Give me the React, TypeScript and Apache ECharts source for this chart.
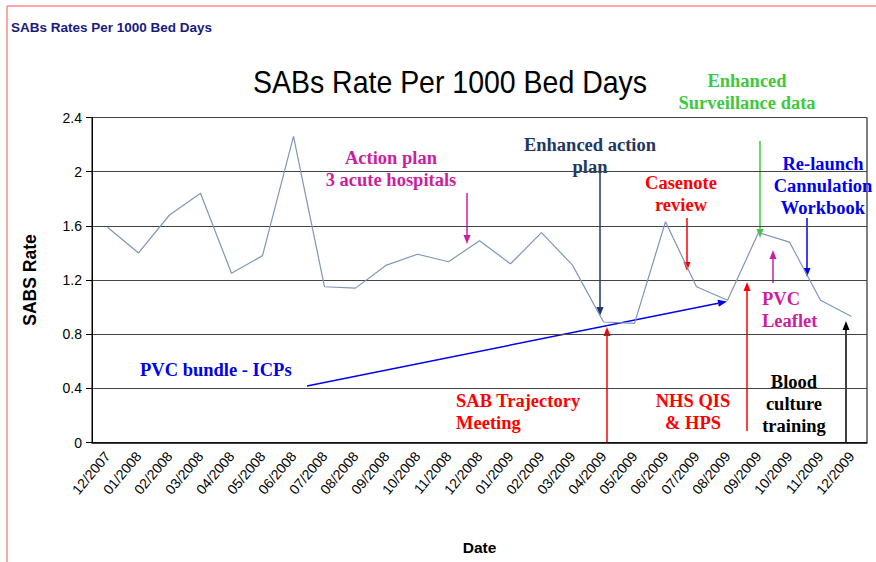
import React, { useEffect, useRef } from "react";
import * as echarts from "echarts";

const categories = [
  "12/2007", "01/2008", "02/2008", "03/2008", "04/2008", "05/2008", "06/2008",
  "07/2008", "08/2008", "09/2008", "10/2008", "11/2008", "12/2008", "01/2009",
  "02/2009", "03/2009", "04/2009", "05/2009", "06/2009", "07/2009", "08/2009",
  "09/2009", "10/2009", "11/2009", "12/2009",
];

const sabsRate = [
  1.59, 1.40, 1.68, 1.84, 1.25, 1.38, 2.26, 1.15, 1.14, 1.31, 1.39, 1.335, 1.49,
  1.32, 1.55, 1.31, 0.89, 0.88, 1.63, 1.15, 1.05, 1.55, 1.48, 1.05, 0.93,
];

const yTicks = { min: 0, max: 2.4, interval: 0.4 };

const SERIF = "'Liberation Serif', 'Times New Roman', serif";
const SANS = "'Liberation Sans', Arial, sans-serif";

function arrow(x1: number, y1: number, x2: number, y2: number, color: string, width = 1.5) {
  const ang = Math.atan2(y2 - y1, x2 - x1);
  const L = 9;
  const W = 3.5;
  const c = Math.cos(ang);
  const s = Math.sin(ang);
  const bx = x2 - L * c;
  const by = y2 - L * s;
  return {
    type: "group",
    silent: true,
    children: [
      {
        type: "line",
        shape: { x1, y1, x2: bx, y2: by },
        style: { stroke: color, lineWidth: width },
      },
      {
        type: "polygon",
        shape: {
          points: [
            [x2, y2],
            [bx - W * s, by + W * c],
            [bx + W * s, by - W * c],
          ],
        },
        style: { fill: color },
      },
    ],
  };
}

function label(text: string, x: number, y: number, color: string, align = "center") {
  return {
    type: "text",
    x,
    y,
    silent: true,
    style: {
      text,
      fontFamily: SERIF,
      fontWeight: "bold",
      fontSize: 18.5,
      lineHeight: 22,
      fill: color,
      align,
      verticalAlign: "middle",
    },
  };
}

export default function App() {
  const ref = useRef<HTMLDivElement>(null);

  useEffect(() => {
    document.body.style.margin = "0";
    if (!ref.current) return;
    const chart = echarts.init(ref.current, undefined, { renderer: "svg" });

    const RED = "#ff0000";
    const MAGENTA = "#cc1f9f";
    const NAVY = "#1f3864";
    const BLUE = "#0000ee";
    const GREEN = "#3ec93e";

    chart.setOption({
      animation: false,
      backgroundColor: "#ffffff",
      grid: {
        left: 92,
        right: 9,
        top: 117.5,
        bottom: 119.5,
        containLabel: false,
        outerBoundsMode: "none",
        show: true,
        borderColor: "#000",
        borderWidth: 1,
        backgroundColor: "transparent",
      },
      xAxis: {
        type: "category",
        data: categories,
        boundaryGap: true,
        name: "Date",
        nameLocation: "middle",
        nameGap: 97,
        nameTextStyle: { fontFamily: SANS, fontWeight: "bold", fontSize: 15.5, color: "#000" },
        axisLine: { show: true, lineStyle: { color: "#000", width: 1.5 } },
        axisTick: { show: false },
        axisLabel: {
          rotate: 50,
          interval: 0,
          margin: 11,
          fontFamily: SANS,
          fontSize: 14,
          color: "#000",
        },
      },
      yAxis: {
        type: "value",
        min: yTicks.min,
        max: yTicks.max,
        interval: yTicks.interval,
        name: "SABS Rate",
        nameLocation: "middle",
        nameGap: 53,
        nameRotate: 90,
        nameTextStyle: { fontFamily: SANS, fontWeight: "bold", fontSize: 17.5, color: "#000" },
        axisLine: { show: true, lineStyle: { color: "#000", width: 1 } },
        axisTick: { show: true, length: 6, lineStyle: { color: "#000" } },
        axisLabel: { margin: 10, fontFamily: SANS, fontSize: 14, color: "#000" },
        splitLine: { show: true, lineStyle: { color: "#444", width: 1 } },
      },
      series: [
        {
          type: "line",
          data: sabsRate,
          symbol: "none",
          lineStyle: { color: "#7f96b8", width: 1.2 },
          z: 3,
        },
      ],
      graphic: [
        {
          type: "polyline",
          silent: true,
          shape: { points: [[7, 600], [7, 6], [900, 6]] },
          style: { stroke: "#ff5050", lineWidth: 1, fill: null },
        },
        {
          type: "text",
          x: 11,
          y: 27,
          silent: true,
          style: {
            text: "SABs Rates Per 1000 Bed Days",
            fontFamily: SANS,
            fontWeight: "bold",
            fontSize: 13.5,
            fill: "#1a1a80",
            align: "left",
            verticalAlign: "middle",
          },
        },
        {
          type: "text",
          x: 450,
          y: 82,
          scaleX: 0.89,
          silent: true,
          style: {
            text: "SABs Rate Per 1000 Bed Days",
            fontFamily: SANS,
            fontSize: 32,
            fill: "#000",
            align: "center",
            verticalAlign: "middle",
          },
        },
        label("Enhanced\nSurveillance data", 747, 91.5, GREEN),
        label("Action plan\n3 acute hospitals", 391, 168.5, MAGENTA),
        label("Enhanced action\nplan", 590, 156, NAVY),
        label("Casenote\nreview", 681, 194, RED),
        label("Re-launch\nCannulation\nWorkbook", 823, 186, BLUE),
        label("PVC\nLeaflet", 762, 310, MAGENTA, "left"),
        label("PVC bundle - ICPs", 140, 370, BLUE, "left"),
        label("SAB Trajectory\nMeeting", 456, 412, RED, "left"),
        label("NHS QIS\n& HPS", 693, 412, RED),
        label("Blood\nculture\ntraining", 794, 404, "#000"),
        arrow(467, 193, 467, 244, MAGENTA),
        arrow(600, 172, 600, 316, NAVY),
        arrow(687, 218, 687, 271, RED),
        arrow(760, 141, 760, 238, GREEN),
        arrow(773, 283, 773, 250, MAGENTA),
        arrow(807, 218, 807, 277, BLUE),
        arrow(846, 443, 846, 321, "#000"),
        arrow(747, 431, 747, 282, RED),
        arrow(607, 443, 607, 327, RED),
        arrow(307, 386, 727, 301.5, BLUE),
      ],
    });

    return () => chart.dispose();
  }, []);

  return <div ref={ref} style={{ width: 876, height: 562 }} />;
}
